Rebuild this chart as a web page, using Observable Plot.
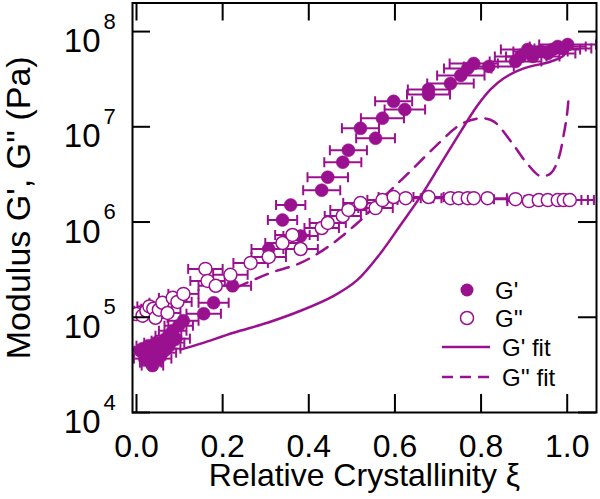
<!DOCTYPE html>
<html><head><meta charset="utf-8">
<script src="https://cdn.jsdelivr.net/npm/d3@7"></script>
<script src="https://cdn.jsdelivr.net/npm/@observablehq/plot@0.6"></script>
<style>
html,body{margin:0;padding:0;background:#fff;}
#wrap{position:relative;width:600px;height:499px;overflow:hidden;}
#wrap svg{position:absolute;left:0;top:0;}
</style></head><body><div id="wrap"></div>
<script>
// ---- data ----
const xTickValues = [0, 0.2, 0.4, 0.6, 0.8, 1.0];
const xTickLabels = ["0.0", "0.2", "0.4", "0.6", "0.8", "1.0"];
const yTickValues = [1e4, 1e5, 1e6, 1e7, 1e8];
const yTickExps = ["4", "5", "6", "7", "8"];

// G' (storage modulus) measured
const gpX = [0.009,0.014,0.019,0.023,0.028,0.033,0.037,0.039,0.044,0.046,0.051,0.056,0.060,0.065,0.070,0.074,0.079,0.084,0.091,0.098,
  0.109,0.156,0.179,0.223,0.307,0.339,0.358,0.381,0.430,0.444,0.479,0.492,0.520,0.555,0.571,0.597,0.623,0.678,0.678,0.729,
  0.753,0.769,0.783,0.818,0.880,0.892,0.908,0.920,0.938,0.955,0.966,0.978,0.990,1.001];
const gpY = [4.46e4,4.68e4,3.68e4,4.46e4,5.03e4,3.34e4,3.11e4,3.95e4,4.46e4,5.41e4,3.68e4,5.03e4,4.25e4,5.68e4,4.68e4,6.40e4,5.41e4,7.22e4,5.96e4,8.15e4,
  9.19e4,1.09e5,1.42e5,2.14e5,5.21e5,1.05e6,1.51e6,7.13e5,2.16e6,2.96e6,4.25e6,5.68e6,9.64e6,7.58e6,1.23e7,1.85e7,1.52e7,2.47e7,2.19e7,2.85e7,
  3.46e7,4.10e7,4.62e7,4.30e7,4.85e7,5.48e7,6.48e7,5.48e7,6.18e7,5.89e7,6.48e7,6.97e7,6.64e7,7.31e7];
const gpErr = [0.025,0.025,0.025,0.028,0.028,0.025,0.025,0.028,0.030,0.028,0.030,0.030,0.032,0.030,0.032,0.030,0.032,0.032,0.033,0.033,
  0.035,0.040,0.035,0.043,0.040,0.034,0.034,0.040,0.043,0.047,0.043,0.043,0.043,0.045,0.050,0.043,0.047,0.048,0.050,0.054,
  0.055,0.055,0.056,0.058,0.060,0.060,0.062,0.062,0.063,0.064,0.064,0.065,0.066,0.066];

// G'' (loss modulus) measured
const gppX = [0.000,0.014,0.023,0.030,0.039,0.044,0.052,0.060,0.072,0.084,0.095,0.109,0.160,0.165,0.184,0.218,0.265,0.307,0.339,0.362,0.381,0.430,0.444,0.479,
  0.492,0.520,0.555,0.571,0.597,0.625,0.678,0.729,0.748,0.769,0.783,0.815,0.880,0.911,0.934,0.955,0.978,0.992,1.006];
const gppY = [1.08e5,1.04e5,1.17e5,1.30e5,1.23e5,9.88e4,1.20e5,1.42e5,1.11e5,1.60e5,1.45e5,1.76e5,3.22e5,2.41e5,2.14e5,2.79e5,3.72e5,4.30e5,6.03e5,7.31e5,5.21e5,8.65e5,9.77e5,1.16e6,
  1.34e6,1.58e6,1.40e6,1.70e6,1.83e6,1.78e6,1.83e6,1.78e6,1.78e6,1.78e6,1.78e6,1.78e6,1.74e6,1.66e6,1.70e6,1.70e6,1.70e6,1.70e6,1.70e6];
const gppErr = [0.025,0.026,0.028,0.028,0.028,0.028,0.030,0.030,0.030,0.032,0.033,0.035,0.040,0.040,0.040,0.040,0.040,0.040,0.040,0.040,0.040,0.040,0.042,0.042,
  0.042,0.040,0.040,0.035,0.035,0.035,0.035,0.040,0.040,0.040,0.040,0.045,0.050,0.050,0.052,0.054,0.055,0.056,0.056];

// fits
const fitGpX = [0.102,0.149,0.225,0.304,0.381,0.458,0.513,0.567,0.613,0.660,0.706,0.753,0.792,0.822,0.852,0.899,0.962,0.992,1.003];
const fitGpY = [4.57e4,5.28e4,6.88e4,8.76e4,1.17e5,1.68e5,2.47e5,4.74e5,9.31e5,1.87e6,4.05e6,8.97e6,1.68e7,2.47e7,3.22e7,4.10e7,4.85e7,5.61e7,7.31e7];
const fitGppX = [0.230,0.311,0.381,0.444,0.513,0.583,0.636,0.690,0.753,0.799,0.829,0.869,0.908,0.938,0.962,0.980,0.992,0.999,1.003];
const fitGppY = [2.04e5,2.92e5,3.72e5,5.47e5,9.77e5,2.01e6,3.42e6,5.96e6,1.06e7,1.23e7,1.14e7,7.05e6,4.05e6,3.03e6,3.26e6,4.68e6,8.34e6,1.29e7,1.94e7];

// ---- build ----
const C = "#9a1190";
const FONT = "'Liberation Sans', Arial, Helvetica, sans-serif";
const gp = gpX.map((x, i) => ({x, y: gpY[i], e: gpErr[i]}));
const gpp = gppX.map((x, i) => ({x, y: gppY[i], e: gppErr[i]}));
const fitGp = fitGpX.map((x, i) => ({x, y: fitGpY[i]}));
const fitGpp = fitGppX.map((x, i) => ({x, y: fitGppY[i]}));

const W = 600, H = 499, mL = 132, mR = 4, mT = 2.5, mB = 87;
const fw = W - mL - mR, fh = H - mT - mB, TL = 18;
const cap = {draw(ctx, size) { const r = Math.sqrt(size / Math.PI); ctx.moveTo(0, -r); ctx.lineTo(0, r); }};

function errMarks(data) {
  return [
    Plot.ruleY(data, {y: "y", x1: d => d.x - d.e, x2: d => d.x + d.e, stroke: C, strokeWidth: 2, clip: true}),
    Plot.dot(data, {x: d => d.x - d.e, y: "y", symbol: cap, r: 5, stroke: C, strokeWidth: 2, fill: "none", clip: true}),
    Plot.dot(data, {x: d => d.x + d.e, y: "y", symbol: cap, r: 5, stroke: C, strokeWidth: 2, fill: "none", clip: true})
  ];
}

const chart = Plot.plot({
  width: W, height: H,
  marginLeft: mL, marginRight: mR, marginTop: mT, marginBottom: mB,
  x: {domain: [-0.0093, 1.068], axis: null},
  y: {type: "log", domain: [1e4, Math.pow(10, 8.3)], axis: null},
  style: {fontFamily: FONT, background: "white", color: "black"},
  marks: [
    Plot.line(fitGp, {x: "x", y: "y", stroke: C, strokeWidth: 2.5, curve: "catmull-rom", clip: true}),
    Plot.line(fitGpp, {x: "x", y: "y", stroke: C, strokeWidth: 2.5, strokeDasharray: "13,9", curve: "catmull-rom", clip: true}),
    ...errMarks(gp),
    Plot.dot(gp, {x: "x", y: "y", r: 6.5, fill: C, stroke: C, strokeWidth: 0.5, clip: true}),
    ...errMarks(gpp),
    Plot.dot(gpp, {x: "x", y: "y", r: 6.5, fill: "white", stroke: C, strokeWidth: 1.5, clip: true}),
    // ticks (inward, all four sides)
    Plot.tickX(xTickValues, {x: d => d, insetTop: fh - TL, stroke: "black", strokeWidth: 2}),
    Plot.tickX(xTickValues, {x: d => d, insetBottom: fh - TL, stroke: "black", strokeWidth: 2}),
    Plot.tickY(yTickValues, {y: d => d, insetRight: fw - TL, stroke: "black", strokeWidth: 2}),
    Plot.tickY(yTickValues, {y: d => d, insetLeft: fw - TL, stroke: "black", strokeWidth: 2}),
    Plot.frame({stroke: "black", strokeWidth: 2}),
    // tick labels
    Plot.text(xTickValues, {x: d => d, text: (d, i) => xTickLabels[i], frameAnchor: "bottom", dy: 34.5, fontSize: 32, fill: "black", lineAnchor: "middle"}),
    Plot.text(yTickValues, {y: d => d, text: () => "10", frameAnchor: "left", textAnchor: "end", dx: -32, dy: 10, fontSize: 33, fill: "black", lineAnchor: "middle"}),
    Plot.text(yTickValues, {y: d => d, text: (d, i) => yTickExps[i], frameAnchor: "left", textAnchor: "start", dx: -29, dy: -10, fontSize: 22, fill: "black", lineAnchor: "middle"}),
    // axis titles
    Plot.text(["Relative Crystallinity ξ"], {frameAnchor: "bottom", textAnchor: "middle", dy: 63.5, fontSize: 32, fill: "black", lineAnchor: "middle"}),
    Plot.text(["Modulus G', G'' (Pa)"], {frameAnchor: "left", textAnchor: "middle", dx: -113, rotate: -90, fontSize: 34, fill: "black", lineAnchor: "middle"})
  ]
});
document.getElementById("wrap").appendChild(chart);

// ---- legend overlay ----
const leg = d3.select("#wrap").append("svg").attr("width", W).attr("height", H)
  .style("pointer-events", "none").style("font-family", FONT);
leg.append("circle").attr("cx", 467).attr("cy", 290).attr("r", 6.5).attr("fill", C);
leg.append("circle").attr("cx", 467).attr("cy", 318).attr("r", 6.5).attr("fill", "white").attr("stroke", C).attr("stroke-width", 1.5);
leg.append("line").attr("x1", 442).attr("x2", 490).attr("y1", 347).attr("y2", 347).attr("stroke", C).attr("stroke-width", 2.5);
leg.append("line").attr("x1", 442).attr("x2", 490).attr("y1", 377).attr("y2", 377).attr("stroke", C).attr("stroke-width", 2.5).attr("stroke-dasharray", "11,7");
const labels = [["G'", 495, 290], ["G''", 495, 318], ["G' fit", 502, 347], ["G'' fit", 502, 377]];
leg.selectAll("text.l").data(labels).join("text").attr("class", "l")
  .attr("x", d => d[1]).attr("y", d => d[2]).attr("dy", "0.36em")
  .attr("font-size", 24).attr("fill", "black").text(d => d[0]);
</script></body></html>
